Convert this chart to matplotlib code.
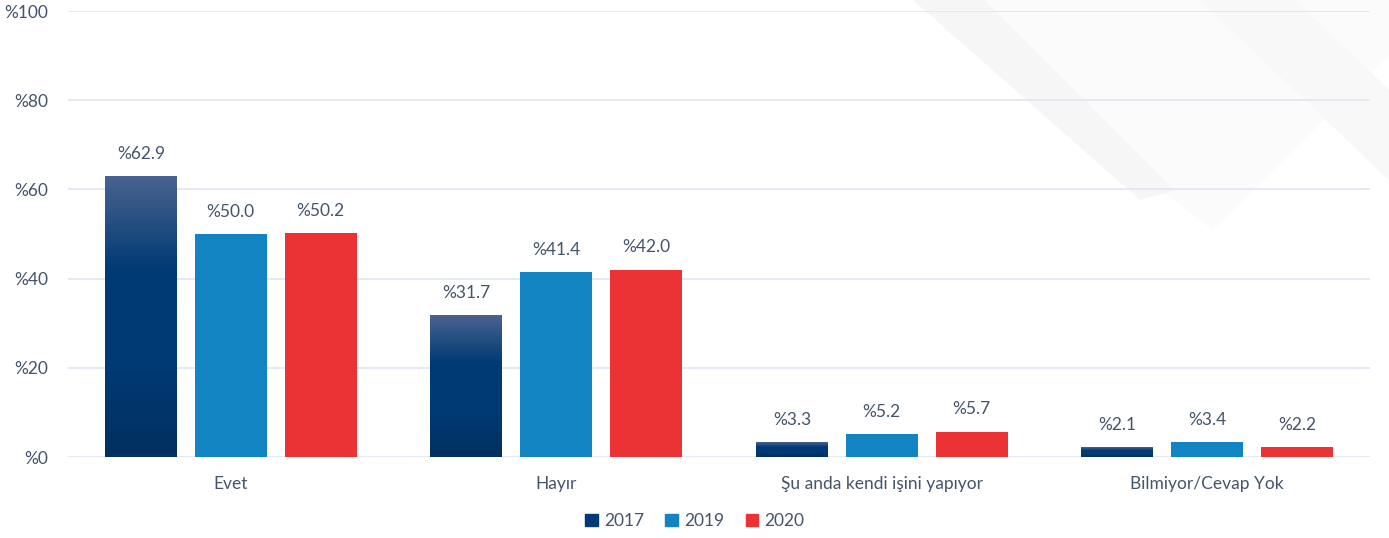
import matplotlib.pyplot as plt
import numpy as np
from matplotlib.colors import LinearSegmentedColormap
from matplotlib.patches import Polygon, Patch

categories = ["Evet", "Hayır", "Şu anda kendi işini yapıyor", "Bilmiyor/Cevap Yok"]
years = ["2017", "2019", "2020"]
v2017 = [62.9, 31.7, 3.3, 2.1]
v2019 = [50.0, 41.4, 5.2, 3.4]
v2020 = [50.2, 42.0, 5.7, 2.2]

text_color = "#44546a"
c2019 = "#1284c2"
c2020 = "#eb3336"
grad = LinearSegmentedColormap.from_list("g17", ["#00305f", "#003a75", "#003a75", "#4a6390"])

plt.rcParams["font.family"] = ["Lato", "DejaVu Sans"]

fig = plt.figure(figsize=(13.89, 5.38), dpi=100)
fig.patch.set_facecolor("white")

# faint diagonal background shapes at top right
bg = fig.add_axes([0, 0, 1, 1], zorder=-5)
bg.set_xlim(0, 1389)
bg.set_ylim(538, 0)
bg.axis("off")
for pts, col in [
    ([(913, 0), (1389, 0), (1389, 55), (1213, 230)], "#fbfbfb"),
    ([(913, 0), (985, 0), (1175, 190), (1140, 200)], "#f6f6f6"),
    ([(1200, 0), (1295, 0), (1389, 90), (1389, 180)], "#f8f8f8"),
]:
    bg.add_patch(Polygon(pts, closed=True, color=col, lw=0))

ax = fig.add_axes([68 / 1389, 1 - 457 / 538, 1302 / 1389, 446 / 538])
ax.patch.set_alpha(0)

x = np.arange(len(categories))
w = 0.221
step = 0.276

# 2017 bars with vertical gradient
bars17 = ax.bar(x - step, v2017, w, color="none", zorder=2)
gimg = np.linspace(0, 1, 256).reshape(-1, 1)
for b in bars17:
    x0, h = b.get_x(), b.get_height()
    ax.imshow(gimg, cmap=grad, aspect="auto", origin="lower",
              extent=(x0, x0 + w, 0, h), zorder=2)
bars19 = ax.bar(x, v2019, w, color=c2019, zorder=2)
bars20 = ax.bar(x + step, v2020, w, color=c2020, zorder=2)

for bars, vals in [(bars17, v2017), (bars19, v2019), (bars20, v2020)]:
    for b, v in zip(bars, vals):
        ax.text(b.get_x() + w / 2, v + 3.2, f"%{v:.1f}", ha="center", va="bottom",
                fontsize=12.5, color=text_color)

ax.set_xlim(-0.5, len(categories) - 0.5)
ax.set_ylim(0, 100)
ax.set_yticks(range(0, 101, 20))
ax.set_yticklabels([f"%{t}" for t in range(0, 101, 20)])
ax.set_xticks(x)
ax.set_xticklabels(categories)
ax.tick_params(axis="both", length=0, labelsize=12.5, colors=text_color)
ax.tick_params(axis="y", pad=14)
ax.tick_params(axis="x", pad=14)
ax.grid(axis="y", color="#dfe6f2", lw=1.2, zorder=0)
ax.set_axisbelow(True)
for s in ax.spines.values():
    s.set_visible(False)

handles = [Patch(color="#003a75"), Patch(color=c2019), Patch(color=c2020)]
fig.legend(handles, years, loc="center", bbox_to_anchor=(695 / 1389, 1 - 521 / 538),
           ncol=3, frameon=False, fontsize=12.5, handlelength=0.7, handleheight=0.7,
           handletextpad=0.4, columnspacing=1.2, labelcolor=text_color)

fig.savefig("out.png", dpi=100)
